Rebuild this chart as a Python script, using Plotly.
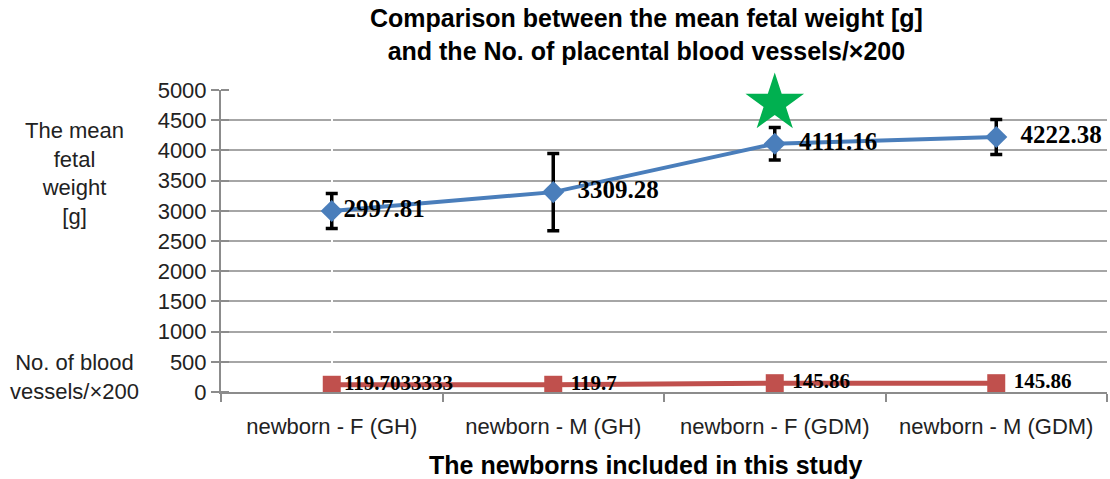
import plotly.graph_objects as go

categories = ["newborn - F (GH)", "newborn - M (GH)", "newborn - F (GDM)", "newborn - M (GDM)"]
fetal_weight = [2997.81, 3309.28, 4111.16, 4222.38]
fetal_weight_err = [290, 640, 270, 290]
vessels = [119.7033333, 119.7, 145.86, 145.86]
vessel_labels = ["119.7033333", "119.7", "145.86", "145.86"]
star_category = 2
star_value = 4780
y_ticks = list(range(0, 5001, 500))

x = list(range(len(categories)))
AXIS_GRAY = "#8c8c8c"
NB = "\u00a0"

weight_text = [f"{v:.2f}" for v in fetal_weight]
weight_text = [weight_text[0]] + [NB * 2 + t for t in weight_text[1:]]
vessel_text = [vessel_labels[0]] + [NB + t for t in vessel_labels[1:]]

fig = go.Figure()
fig.add_trace(go.Scatter(
    x=x, y=fetal_weight, mode="lines+markers+text",
    line=dict(color="#4A7EBB", width=4),
    marker=dict(symbol="diamond", size=17, color="#4A7EBB"),
    error_y=dict(type="data", array=fetal_weight_err, color="black", thickness=3.5, width=6),
    text=weight_text, textposition="middle right",
    textfont=dict(family="Liberation Serif", size=25, color="black", weight="bold"),
    cliponaxis=False, showlegend=False,
))
fig.add_trace(go.Scatter(
    x=x, y=vessels, mode="lines+markers+text",
    line=dict(color="#C0504D", width=5),
    marker=dict(symbol="square", size=18, color="#C0504D"),
    text=vessel_text, textposition="middle right",
    textfont=dict(family="Liberation Serif", size=21, color="black", weight="bold"),
    cliponaxis=False, showlegend=False,
))
fig.add_trace(go.Scatter(
    x=[star_category], y=[star_value], mode="markers",
    marker=dict(symbol="star", size=44, color="#00B050"),
    cliponaxis=False, showlegend=False,
))

fig.update_layout(
    width=1110, height=479,
    margin=dict(l=221, r=3, t=90, b=87),
    plot_bgcolor="white", paper_bgcolor="white",
    font=dict(family="Liberation Sans", color="black"),
    xaxis=dict(
        range=[-0.5, 3.5], tickvals=x, ticktext=categories, ticks="",
        tickfont=dict(size=22, family="Liberation Sans", color="#222"),
        showgrid=False, showline=True, linecolor=AXIS_GRAY, linewidth=2,
        minor=dict(tickvals=[-0.5, 0.5, 1.5, 2.5, 3.5], ticks="outside", ticklen=8,
                   tickcolor=AXIS_GRAY, tickwidth=2),
        ticklabelstandoff=14,
    ),
    yaxis=dict(
        range=[0, 5000], tickvals=y_ticks, ticks="outside", ticklen=8,
        tickcolor=AXIS_GRAY, tickwidth=2,
        tickfont=dict(size=22, family="Liberation Sans", color="#222"),
        showgrid=True, gridcolor="#a6a6a6", gridwidth=2,
        showline=True, linecolor=AXIS_GRAY, linewidth=2,
        zeroline=False,
        minor=dict(tickvals=y_ticks, ticks="inside", ticklen=8, tickcolor=AXIS_GRAY, tickwidth=2),
    ),
)

fig.add_annotation(text="<b>Comparison between the mean fetal weight [g]<br>and the No. of placental blood vessels/×200</b>",
                   xref="paper", yref="paper", x=0.4808, y=1.185, xanchor="center", yanchor="middle",
                   showarrow=False, font=dict(size=25, family="Liberation Sans", color="black"))
fig.add_annotation(text="<b>The newborns included in this study</b>", xref="paper", yref="paper",
                   x=0.4786, y=-0.242, xanchor="center", yanchor="middle", showarrow=False,
                   font=dict(size=25, family="Liberation Sans", color="black"))
fig.add_annotation(text="The mean<br>fetal<br>weight<br>[g]", xref="paper", yref="paper",
                   x=-0.1648, y=0.722, xanchor="center", yanchor="middle", showarrow=False,
                   font=dict(size=22, family="Liberation Sans", color="#222"))
fig.add_annotation(text="No. of blood<br>vessels/×200", xref="paper", yref="paper",
                   x=-0.1648, y=0.05, xanchor="center", yanchor="middle", showarrow=False,
                   font=dict(size=22, family="Liberation Sans", color="#222"))

fig.write_html("out.html", config={"displayModeBar": False},
               post_script="document.body.style.margin='0';")
